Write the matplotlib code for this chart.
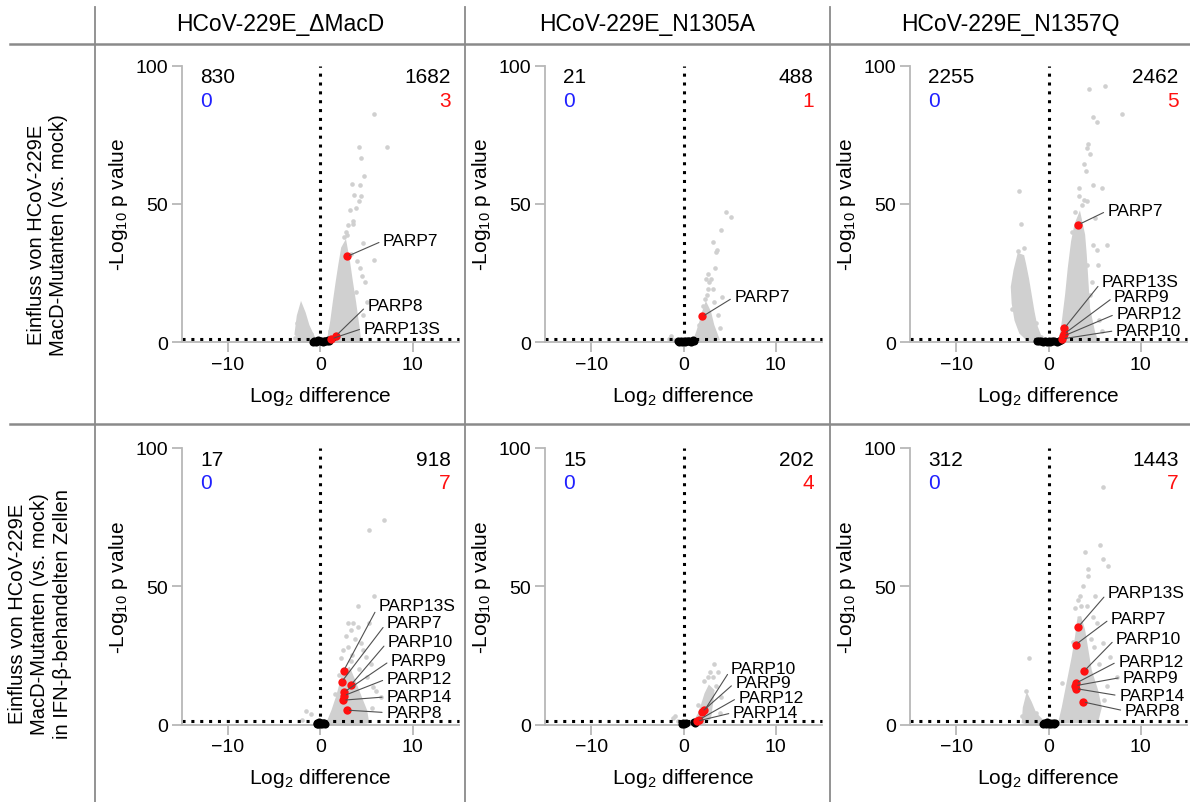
import matplotlib
matplotlib.use("Agg")
import matplotlib.pyplot as plt
from matplotlib import font_manager
from matplotlib.lines import Line2D

names_avail = {f.name for f in font_manager.fontManager.ttflist}
NARROW = "Liberation Sans Narrow" if "Liberation Sans Narrow" in names_avail else "Liberation Sans"
plt.rcParams["font.family"] = ["Liberation Sans", "DejaVu Sans"]
plt.rcParams["mathtext.fontset"] = "custom"
plt.rcParams["mathtext.rm"] = "Liberation Sans"
plt.rcParams["mathtext.it"] = "Liberation Sans:italic"

# ---- data ----
col_titles = ["HCoV-229E_\u0394MacD", "HCoV-229E_N1305A", "HCoV-229E_N1357Q"]
row_titles = ["Einfluss von HCoV-229E\nMacD-Mutanten (vs. mock)",
              "Einfluss von HCoV-229E\nMacD-Mutanten (vs. mock)\nin IFN-\u03b2-behandelten Zellen"]

count_down = [830, 21, 2255, 17, 15, 312]
count_up = [1682, 488, 2462, 918, 202, 1443]
parp_down = [0, 0, 0, 0, 0, 0]
parp_up = [3, 1, 5, 7, 4, 7]

# dense part of the significant cloud, outline per panel (log2 diff, -log10 p)
cloud_r_x = [
    [0.9, 1.25, 1.55, 1.85, 2.15, 2.45, 2.7, 3.05, 3.35, 3.7, 4.05, 4.25, 2.5],
    [1.2, 1.55, 1.9, 2.2, 2.45, 2.8, 3.15, 3.7, 2.2],
    [3.35, 2.99, 2.63, 2.27, 1.98, 1.62, 1.26, 5.2, 4.86, 4.32, 4.14, 3.96, 3.78],
    [0.85, 1.4, 1.9, 2.3, 2.6, 3.1, 3.6, 4.3, 4.9, 5.1, 3.0],
    [1.2, 1.73, 2.1, 2.45, 2.8, 3.17, 3.0, 2.8, 2.0],
    [3.35, 3.24, 3.06, 2.7, 2.34, 1.98, 1.62, 1.26, 5.2, 5.58, 5.2, 4.5, 4.14, 3.78],
]
cloud_r_y = [
    [0.5, 7, 14.5, 21.5, 28, 34, 35.5, 29, 22, 14.5, 6, 0.8, 0.3],
    [0.3, 3.6, 7.3, 10.9, 13.3, 10.9, 6.1, 1.2, 0.3],
    [45.5, 42.5, 36.4, 26.7, 17, 7.3, 0.2, 0.6, 3.6, 12.1, 21.8, 31.5, 38.8],
    [0.5, 5, 10, 15, 19, 20, 16, 10, 5, 1, 0.3],
    [0.6, 3.7, 7.3, 11, 13.4, 12.2, 7.3, 2.4, 0.3],
    [39, 36.6, 31.7, 24.4, 18.3, 12.2, 6.1, 1, 1.2, 6.1, 12.2, 19.5, 26.8, 34.1],
]
cloud_l_x = [
    [-2.6, -2.35, -2.05, -1.75, -1.35, -0.6, -1.9],
    [],
    [-3.2, -3.6, -3.9, -3.8, -3.5, -3.0, -2.2, -0.6, -1.0, -1.4, -1.7, -2.0, -2.3, -2.6, -2.8],
    [],
    [],
    [-2.7, -2.6, -2.3, -2.0, -1.5, -0.5, -1.8],
]
cloud_l_y = [
    [3, 9.5, 13, 10.5, 6, 0.6, 0.2],
    [],
    [31.5, 26, 20, 14, 8, 3.5, 1, 0.2, 2.5, 6, 11, 17, 23, 28, 31],
    [],
    [],
    [1, 6, 10, 8, 4, 0.5, 0.2],
]

# scattered significant proteins outside the dense part
out_x = [
    [5.85, 4.15, 7.2, 4.4, 4.7, 3.4, 4.3, 3.7, 4.4, 4.25, 3.9, 3.25, 3.5, 3.05, 2.9, 4.0, 5.85, 4.85, 5.1,
     4.3, 3.3, 4.6, 2.6, 2.8, 3.6, 4.5, 4.6, 3.9, 1.1, 1.4, -2.7, -2.5, -1.0, 2.0],
    [2.45, 2.8, 3.15, 2.6, 3.0, 3.5, 3.6, 3.15, 4.05, 4.6, 5.1, 2.3, 3.3, 4.2, 3.7, 1.7, -1.3, -1.6, 2.7, 2.5,
     3.9, 2.1, 3.4, -1.0],
    [4.4, 6.1, 8.0, 4.85, 5.2, 4.3, 4.15, 3.8, 4.05, 3.25, 4.85, 5.75, 4.15, 3.8, 4.85, 5.2, 6.3, 5.4, 4.7,
     3.6, 3.25, -3.2, -2.95, -3.6, 4.5, 5.0, 2.9, 2.5, 4.2, 4.5, 5.5, 5.8, 1.8, 1.5, -4.0, -3.3, -1.3,
     -0.8, -2.7, 4.4],
    [3.0, 3.5, 4.05, 3.35, 4.05, 5.8, 5.3, 4.4, 4.95, 5.5, 3.0, 2.45, 5.1, 5.7, 6.6, 6.95, 5.3, -0.95, -1.5,
     -2.0, 2.2, 3.8, 4.6, 2.8, 3.4, 2.0, 3.3, 4.2, 5.6, 6.0, 1.6],
    [3.35, 3.17, 3.7, 2.6, 4.05, 3.0, -1.15, -0.6, 2.27, 3.5, 2.9, 1.6, 3.9, -0.9],
    [5.86, 5.58, 3.96, 5.94, 6.47, 4.32, 4.32, 3.42, 5.04, 4.14, 5.2, 5.94, 6.65, 7.37, 4.86, 3.5, 3.24,
     -2.09, 3.7, 4.6, 5.5, 2.9, 2.6, 6.0, 6.3, 4.9, 1.5, -2.9, -2.4, -1.3],
]
out_y = [
    [82.5, 70.5, 70.7, 66.7, 60.2, 57.1, 56.9, 53.3, 52.7, 51.1, 48.4, 47.8, 42.7, 42.4, 38.8, 29.2, 29.8, 21.9,
     14.7, 26.7, 32, 36, 38, 40, 44, 24, 10, 18, 4, 9, 1.5, 7, 3, 15],
    [23, 21.8, 19.4, 19.4, 23, 32.8, 33.4, 36.4, 40.7, 47.1, 45.1, 15.8, 14.6, 16.4, 9.7, 6.1, 2.4, 1.2, 24.5,
     17, 5, 13, 27, 0.8],
    [91.6, 92.8, 82.5, 81.3, 79.5, 71.6, 70.4, 64.3, 61.9, 55.8, 57, 55.8, 51, 51.6, 35.2, 33.4, 35.2, 27.9,
     21.8, 49.8, 52.8, 54.6, 42.7, 22, 68, 45, 47, 40, 28, 17, 8, 4, 11, 5, 12, 33, 7, 2, 34, 8],
    [36.6, 36.6, 35.4, 34, 42.7, 46.3, 36.6, 29.3, 24.4, 22, 28, 26.8, 17, 13.4, 9.8, 74, 70.5, 3.7, 4.9,
     1.8, 24, 31, 27, 32, 25, 18, 23, 20, 6, 12, 11],
    [22, 17, 18.9, 17, 9.8, 10.4, 2.4, 1.2, 15.9, 14, 19, 7, 4, 3],
    [86, 64.9, 62.4, 59.8, 57.3, 56.1, 53.7, 46.3, 46.3, 42.7, 36.6, 29.3, 24.4, 17.1, 39, 42.7, 45.1,
     24.1, 50, 31, 22, 42, 30, 9, 14, 28, 15, 3, 12, 4],
]

# PARPs that are not significant (black)
ns_x = [
    [-0.8, -0.65, -0.5, -0.35, -0.2, -0.05, 0.1, 0.25, 0.4, 0.55, 0.7, 0.85, 1.0],
    [-0.6, -0.45, -0.3, -0.15, 0.0, 0.15, 0.3, 0.45, 0.6, 0.8, 1.0, 1.15],
    [-1.2, -1.0, -0.8, -0.6, -0.4, -0.2, 0.0, 0.2, 0.4, 0.6, 0.9, 1.1, 1.3],
    [-0.4, -0.3, -0.2, -0.1, 0.0, 0.1, 0.2, 0.3, 0.4, 0.5],
    [-0.2, -0.05, 0.1, 0.25, 1.1, 1.2],
    [-0.6, -0.45, -0.3, -0.15, 0.0, 0.15, 0.3, 0.45, 0.6, 0.75],
]
ns_y = [
    [0.2, 0.5, 0.1, 0.4, 0.7, 0.3, 0.5, 0.2, 0.6, 0.3, 0.5, 0.8, 0.4],
    [0.3, 0.1, 0.5, 0.2, 0.4, 0.1, 0.6, 0.3, 0.5, 0.2, 0.7, 0.4],
    [0.6, 0.3, 0.5, 0.1, 0.4, 0.2, 0.5, 0.1, 0.3, 0.6, 0.2, 0.4, 0.7],
    [0.2, 0.6, 0.1, 0.9, 0.3, 0.5, 0.2, 0.7, 0.4, 0.1],
    [0.1, 0.5, 0.2, 0.4, 0.9, 0.6],
    [0.2, 0.6, 0.3, 0.8, 0.1, 0.5, 0.3, 0.7, 0.2, 0.4],
]

# significant PARPs (red)
hit_names = [
    ["PARP7", "PARP8", "PARP13S"],
    ["PARP7"],
    ["PARP7", "PARP13S", "PARP9", "PARP12", "PARP10"],
    ["PARP13S", "PARP7", "PARP10", "PARP9", "PARP12", "PARP14", "PARP8"],
    ["PARP10", "PARP9", "PARP12", "PARP14"],
    ["PARP13S", "PARP7", "PARP10", "PARP12", "PARP9", "PARP14", "PARP8"],
]
hit_x = [
    [2.9, 1.7, 1.2],
    [2.05],
    [3.24, 1.73, 1.69, 1.62, 1.51],
    [2.55, 2.34, 3.35, 2.63, 2.55, 2.48, 2.88],
    [2.27, 2.0, 1.73, 1.47],
    [3.24, 2.95, 3.85, 2.95, 2.88, 2.95, 3.7],
]
hit_y = [
    [31, 2.3, 1.2],
    [9.3],
    [42.5, 5.1, 3.0, 2.2, 1.2],
    [19.5, 15.5, 14.4, 11.8, 10.4, 8.8, 5.2],
    [5.1, 4.6, 1.8, 1.2],
    [35.4, 28.9, 19.3, 14.9, 14, 13, 8.2],
]

# where the labels sit (layout)
lab_x = [
    [6.8, 5.1, 4.7],
    [5.5],
    [6.4, 5.75, 7.1, 7.35, 7.3],
    [6.3, 7.2, 7.3, 7.65, 7.2, 7.15, 7.15],
    [5.15, 5.6, 5.95, 5.35],
    [6.4, 6.75, 7.3, 7.55, 8.0, 7.65, 8.25],
]
lab_y = [
    [36.7, 13.3, 5.1],
    [16.4],
    [47.6, 21.8, 16.4, 10.3, 4.2],
    [42.9, 36.8, 29.9, 23.2, 16.5, 10, 4.3],
    [20.1, 15.2, 9.8, 4.3],
    [47.6, 38.4, 31.1, 22.9, 17.1, 10.4, 4.9],
]

sig_line = 1.3  # -log10(0.05)

# ---- figure ----
W, H = 1190, 803
fig = plt.figure(figsize=(W / 100, H / 100), dpi=100)

def fx(px):
    return px / W

def fy(py):
    return 1 - py / H

GREY = "#d0d0d0"
AXC = "#b8b8b8"
RED = "#ff1010"
col_left = [181.7, 545, 910]
row_top = [66.7, 449]
ax_w, ax_h = 277, 276.5
dots = (0, (1, 1.9))

for k in range(6):
    r, c = divmod(k, 3)
    ax = fig.add_axes([fx(col_left[c]), fy(row_top[r] + ax_h), ax_w / W, ax_h / H])
    ax.set_xlim(-15, 15)
    ax.set_ylim(0, 100)
    for s in ["top", "right"]:
        ax.spines[s].set_visible(False)
    for s in ["left", "bottom"]:
        ax.spines[s].set_color(AXC)
        ax.spines[s].set_linewidth(1.3)
    ax.set_xticks([-10, 0, 10])
    ax.set_yticks([0, 50, 100])
    ax.tick_params(length=7, width=1.3, color=AXC, labelsize=14, pad=3)
    ax.set_xlabel("Log$_2$ difference", fontsize=15, labelpad=8)
    ax.set_ylabel("-Log$_{10}$ p value", fontsize=15, labelpad=4)

    if cloud_l_x[k]:
        ax.fill(cloud_l_x[k], cloud_l_y[k], color=GREY, lw=2.5, zorder=1)
    ax.fill(cloud_r_x[k], cloud_r_y[k], color=GREY, lw=2.5, zorder=1)
    ax.scatter(out_x[k], out_y[k], s=11, color=GREY, lw=0, zorder=1)

    ax.plot([0, 0], [0, 100], color="black", lw=2.2, ls=dots, zorder=2)
    ax.plot([-15, 15], [sig_line, sig_line], color="black", lw=2.2, ls=dots,
            zorder=2, clip_on=False)

    ax.scatter(ns_x[k], ns_y[k], s=34, color="black", lw=0, zorder=3, clip_on=False)
    ax.scatter(hit_x[k], hit_y[k], s=36, color=RED, lw=0, zorder=4, clip_on=False)
    for nm, hx, hy, lx, ly in zip(hit_names[k], hit_x[k], hit_y[k], lab_x[k], lab_y[k]):
        ax.annotate(nm, xy=(hx, hy), xytext=(lx, ly), fontsize=12.5, ha="left", va="center",
                    arrowprops=dict(arrowstyle="-", color="#505050", lw=0.8,
                                    shrinkA=1, shrinkB=2, relpos=(0, 0.5)), zorder=5)

    ax.text(-13, 96, str(count_down[k]), fontsize=15, ha="left", va="center")
    ax.text(-13, 87.5, str(parp_down[k]), fontsize=15, ha="left", va="center", color="#2020ff")
    ax.text(14.1, 96, str(count_up[k]), fontsize=15, ha="right", va="center")
    ax.text(14.1, 87.5, str(parp_up[k]), fontsize=15, ha="right", va="center", color=RED)

# table grid
LC = "#8a8a8a"
for x in [95, 465, 830]:
    fig.add_artist(Line2D([fx(x), fx(x)], [fy(8), fy(803)], color=LC, lw=1.3))
for y in [45, 425]:
    fig.add_artist(Line2D([fx(10), fx(1190)], [fy(y), fy(y)], color=LC, lw=1.8))

col_centres = [280, 647, 1010]
for c, t in enumerate(col_titles):
    fig.text(fx(col_centres[c]), fy(25), t, fontsize=16.5, ha="center", va="center", family=NARROW)

row_centres = [(48, 235), (40, 614)]
for r, t in enumerate(row_titles):
    fig.text(fx(row_centres[r][0]), fy(row_centres[r][1]), t, fontsize=14.5, rotation=90,
             ha="center", va="center", multialignment="center", family=NARROW)

fig.savefig("out.png", dpi=100)
